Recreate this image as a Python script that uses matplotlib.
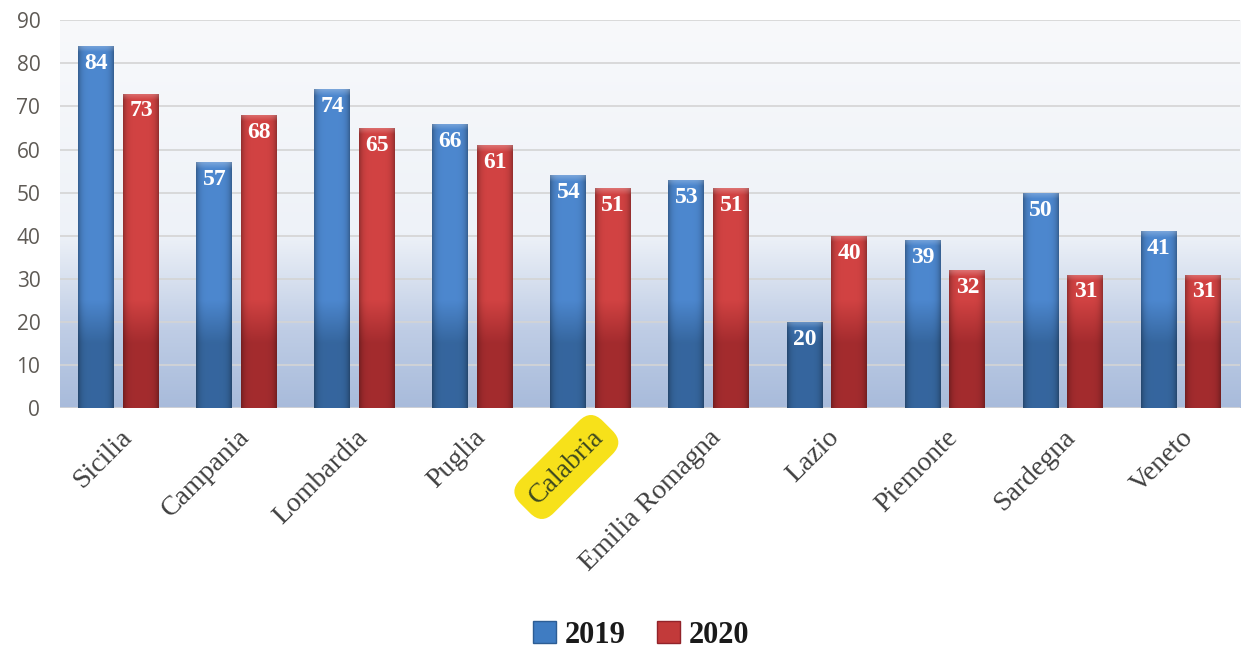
import numpy as np
import matplotlib
matplotlib.use("Agg")
import matplotlib.pyplot as plt
from matplotlib.colors import LinearSegmentedColormap
from matplotlib.patches import Patch

regions = ["Sicilia", "Campania", "Lombardia", "Puglia", "Calabria",
           "Emilia Romagna", "Lazio", "Piemonte", "Sardegna", "Veneto"]
v2019 = [84, 57, 74, 66, 54, 53, 20, 39, 50, 41]
v2020 = [73, 68, 65, 61, 51, 51, 40, 32, 31, 31]
series_names = ["2019", "2020"]
yticks = [0, 10, 20, 30, 40, 50, 60, 70, 80, 90]

fig = plt.figure(figsize=(12.45, 6.53), dpi=100)
ax = fig.add_axes([0.048, 0.375, 0.948, 0.594])

n = len(regions)
x = np.arange(n)
w = 0.305
off = 0.19

# background gradient
bg = LinearSegmentedColormap.from_list("bg", [(0, "#a8bbdb"), (0.2, "#bfcde5"), (0.45, "#eef2f8"), (1, "#f8f9fb")])
grad = np.linspace(0, 1, 256).reshape(-1, 1)
ax.imshow(grad, cmap=bg, origin="lower", extent=[-0.5, n - 0.5, 0, 90], aspect="auto", zorder=0)

for t in yticks:
    ax.axhline(t, color="#d4d4d4", lw=1.2, zorder=1)

blue_top, blue_bot = np.array([0.30, 0.53, 0.81]), np.array([0.21, 0.40, 0.62])
red_top, red_bot = np.array([0.82, 0.26, 0.26]), np.array([0.64, 0.17, 0.18])

def grad_bars(bars, ctop, cbot):
    for b in bars:
        x0, y0 = b.get_x(), b.get_y()
        bw, bh = b.get_width(), b.get_height()
        yabs = np.linspace(0, bh, 300).reshape(-1, 1)
        xx = np.linspace(-1, 1, 60).reshape(1, -1)
        t = np.clip((yabs - 15) / 10.0, 0, 1)
        col = cbot[None, None, :] * (1 - t[..., None]) + ctop[None, None, :] * t[..., None]
        col = col * np.ones((1, xx.shape[1], 1))
        shade = 1 - 0.3 * np.abs(xx) ** 5
        col = col * shade[..., None]
        cap = np.clip(1 - (bh - yabs) / 1.5, 0, 1)
        col = col + (1 - col) * 0.25 * cap[..., None]
        img = np.clip(col, 0, 1)
        im = ax.imshow(img, origin="lower", extent=[x0, x0 + bw, y0, y0 + bh], aspect="auto", zorder=3)
        im.set_clip_path(b)
        b.set_facecolor("none")

b1 = ax.bar(x - off, v2019, w, color="#4a87cc", edgecolor="none", zorder=2)
b2 = ax.bar(x + off, v2020, w, color="#c93c3c", edgecolor="none", zorder=2)
grad_bars(b1, blue_top, blue_bot)
grad_bars(b2, red_top, red_bot)
ax.set_xlim(-0.5, n - 0.5)
ax.set_ylim(0, 90)

for xi, v in zip(x - off, v2019):
    ax.text(xi, v - 1.6, str(v), ha="center", va="top", color="white", fontsize=17,
            family="Liberation Serif", fontweight="bold", zorder=5)
for xi, v in zip(x + off, v2020):
    ax.text(xi, v - 1.6, str(v), ha="center", va="top", color="white", fontsize=17,
            family="Liberation Serif", fontweight="bold", zorder=5)

for s in ax.spines.values():
    s.set_visible(False)
ax.set_yticks(yticks)
ax.set_yticklabels([str(t) for t in yticks], fontsize=15, color="#5e5a55", family="Open Sans")
ax.tick_params(axis="y", length=0, pad=14)
ax.set_xticks(x)
labels = ax.set_xticklabels(regions, rotation=45, ha="right", rotation_mode="anchor",
                            fontsize=20, color="#404040", family="Liberation Serif")
ax.tick_params(axis="x", length=0, pad=12)
for lab in labels:
    if lab.get_text() == "Calabria":
        lab.set_bbox(dict(boxstyle="round,pad=0.4,rounding_size=0.6", facecolor="#f7e11a", edgecolor="none"))
        lab.set_color("#3e4a20")

# legend
handles = [Patch(facecolor="#3f7cc2", edgecolor="#2d5d94"), Patch(facecolor="#c23a3a", edgecolor="#92232a")]
fig.legend(handles, series_names, loc="center", bbox_to_anchor=(0.515, 0.027), ncol=2, frameon=False,
           prop={"family": "Liberation Serif", "size": 22, "weight": "bold"},
           handlelength=0.75, handleheight=0.75, handletextpad=0.3, columnspacing=1.0)
for t in fig.legends[0].get_texts():
    t.set_color("#1a1a1a")

fig.savefig("out.png", dpi=100, facecolor="white")
